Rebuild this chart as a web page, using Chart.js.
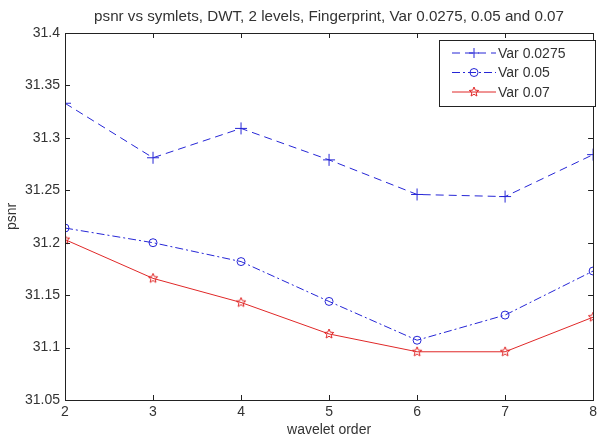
<!DOCTYPE html>
<html>
<head>
<meta charset="utf-8">
<script src="https://cdn.jsdelivr.net/npm/chart.js@4"></script>
<style>
  html, body { margin: 0; padding: 0; background: #fff; }
  #wrap { width: 601px; height: 437px; }
</style>
</head>
<body>
<div id="wrap"><canvas id="psnrChart" width="601" height="437"></canvas></div>
<script>
// wavelet order (x) and psnr for each noise variance
const orders = [2, 3, 4, 5, 6, 7, 8];
const var0275 = [31.333, 31.281, 31.309, 31.279, 31.246, 31.244, 31.284];
const var05 = [31.214, 31.200, 31.182, 31.144, 31.107, 31.131, 31.173];
const var07 = [31.203, 31.166, 31.143, 31.113, 31.096, 31.096, 31.129];
const seriesNames = ['Var 0.0275', 'Var 0.05', 'Var 0.07'];
const yTicks = [31.05, 31.1, 31.15, 31.2, 31.25, 31.3, 31.35, 31.4];

const BLUE = '#2626d6';
const RED = '#e02828';
const FONT = '"Liberation Sans", Arial, sans-serif';
const TXT = '#333';

// pentagram marker, chart.js has no 5 point star
const makeStar = (color, r) => {
    const c = document.createElement('canvas');
    const s = Math.ceil(r * 2 + 4);
    c.width = s; c.height = s;
    const g = c.getContext('2d');
    g.strokeStyle = color;
    g.lineWidth = 1;
    g.beginPath();
    for (let i = 0; i < 10; i++) {
        const rad = i % 2 === 0 ? r : r * 0.45;
        const a = -Math.PI / 2 + i * Math.PI / 5;
        const px = s / 2 + rad * Math.cos(a), py = s / 2 + rad * Math.sin(a);
        if (i === 0) g.moveTo(px, py); else g.lineTo(px, py);
    }
    g.closePath();
    g.stroke();
    return c;
};
const starImg = makeStar(RED, 5);

const toPts = (arr) => arr.map((v, i) => ({ x: orders[i], y: v }));

const boxPlugin = {
    id: 'matlabBox',
    afterDraw(chart) {
        const { ctx, chartArea: a, scales } = chart;
        ctx.save();
        ctx.strokeStyle = '#222';
        ctx.lineWidth = 1;
        ctx.strokeRect(Math.round(a.left) + 0.5, Math.round(a.top) + 0.5,
            Math.round(a.right - a.left), Math.round(a.bottom - a.top));
        // inward ticks on all four sides
        ctx.beginPath();
        scales.x.ticks.forEach(t => {
            const px = Math.round(scales.x.getPixelForValue(t.value)) + 0.5;
            ctx.moveTo(px, a.bottom); ctx.lineTo(px, a.bottom - 5);
            ctx.moveTo(px, a.top); ctx.lineTo(px, a.top + 5);
        });
        scales.y.ticks.forEach(t => {
            const py = Math.round(scales.y.getPixelForValue(t.value)) + 0.5;
            ctx.moveTo(a.left, py); ctx.lineTo(a.left + 5, py);
            ctx.moveTo(a.right, py); ctx.lineTo(a.right - 5, py);
        });
        ctx.stroke();

        // title over the plot
        ctx.fillStyle = TXT;
        ctx.font = '15.2px ' + FONT;
        ctx.textAlign = 'center';
        ctx.textBaseline = 'middle';
        ctx.fillText('psnr vs symlets, DWT, 2 levels, Fingerprint, Var 0.0275, 0.05 and 0.07',
            (a.left + a.right) / 2, 17);

        // legend box, top right
        const lx = 439, ly = 40, lw = 156, lh = 66;
        ctx.fillStyle = '#fff';
        ctx.fillRect(lx, ly, lw, lh);
        ctx.strokeStyle = '#222';
        ctx.strokeRect(lx + 0.5, ly + 0.5, lw, lh);
        chart.data.datasets.forEach((ds, i) => {
            const yy = ly + 13 + i * 19.5;
            ctx.save();
            ctx.strokeStyle = ds.borderColor;
            ctx.lineWidth = 1;
            ctx.setLineDash(ds.borderDash || []);
            ctx.beginPath();
            ctx.moveTo(452, yy); ctx.lineTo(496, yy);
            ctx.stroke();
            ctx.restore();
            const mx = 474;
            ctx.save();
            ctx.strokeStyle = ds.borderColor;
            ctx.beginPath();
            if (i === 0) {
                ctx.moveTo(mx - 5, yy); ctx.lineTo(mx + 5, yy);
                ctx.moveTo(mx, yy - 5); ctx.lineTo(mx, yy + 5);
                ctx.stroke();
            } else if (i === 1) {
                ctx.arc(mx, yy, 4, 0, Math.PI * 2);
                ctx.stroke();
            } else {
                ctx.drawImage(starImg, mx - starImg.width / 2, yy - starImg.height / 2);
            }
            ctx.restore();
            ctx.fillStyle = TXT;
            ctx.font = '14px ' + FONT;
            ctx.textAlign = 'left';
            ctx.fillText(ds.label, 498, yy + 1);
        });
        ctx.restore();
    }
};

new Chart(document.getElementById('psnrChart'), {
    type: 'line',
    data: {
        datasets: [
            {
                label: seriesNames[0], data: toPts(var0275),
                borderColor: BLUE, borderWidth: 1, borderDash: [8, 5],
                pointStyle: 'cross', pointRadius: 6, pointBorderColor: BLUE, pointBorderWidth: 1
            },
            {
                label: seriesNames[1], data: toPts(var05),
                borderColor: BLUE, borderWidth: 1, borderDash: [8, 3, 2, 3],
                pointStyle: 'circle', pointRadius: 4, pointBorderColor: BLUE,
                pointBackgroundColor: 'rgba(0,0,0,0)', pointBorderWidth: 1
            },
            {
                label: seriesNames[2], data: toPts(var07),
                borderColor: RED, borderWidth: 1,
                pointStyle: starImg, pointRadius: 5
            }
        ]
    },
    options: {
        responsive: false,
        animation: false,
        events: [],
        layout: { padding: { top: 33, right: 4, left: 0, bottom: 0 } },
        plugins: { legend: { display: false }, tooltip: { enabled: false } },
        elements: { line: { tension: 0 } },
        scales: {
            x: {
                type: 'linear', min: 2, max: 8,
                ticks: { stepSize: 1, color: TXT, font: { family: FONT, size: 14 }, padding: 4 },
                grid: { display: false, drawTicks: false },
                border: { display: false },
                title: { display: true, text: 'wavelet order', color: TXT, font: { family: FONT, size: 14 }, padding: { top: 0, bottom: -2 } },
                afterFit(scale) { scale.height = 37; }
            },
            y: {
                min: 31.05, max: 31.4,
                afterBuildTicks(scale) { scale.ticks = yTicks.map(v => ({ value: v })); },
                ticks: { color: TXT, font: { family: FONT, size: 14 }, padding: 5,
                    callback: (v) => String(Math.round(v * 100) / 100) },
                grid: { display: false, drawTicks: false },
                border: { display: false },
                title: { display: true, text: 'psnr', color: TXT, font: { family: FONT, size: 14 }, padding: { top: 4, bottom: 0 } },
                afterFit(scale) { scale.width = 65; }
            }
        }
    },
    plugins: [boxPlugin]
});
</script>
</body>
</html>
